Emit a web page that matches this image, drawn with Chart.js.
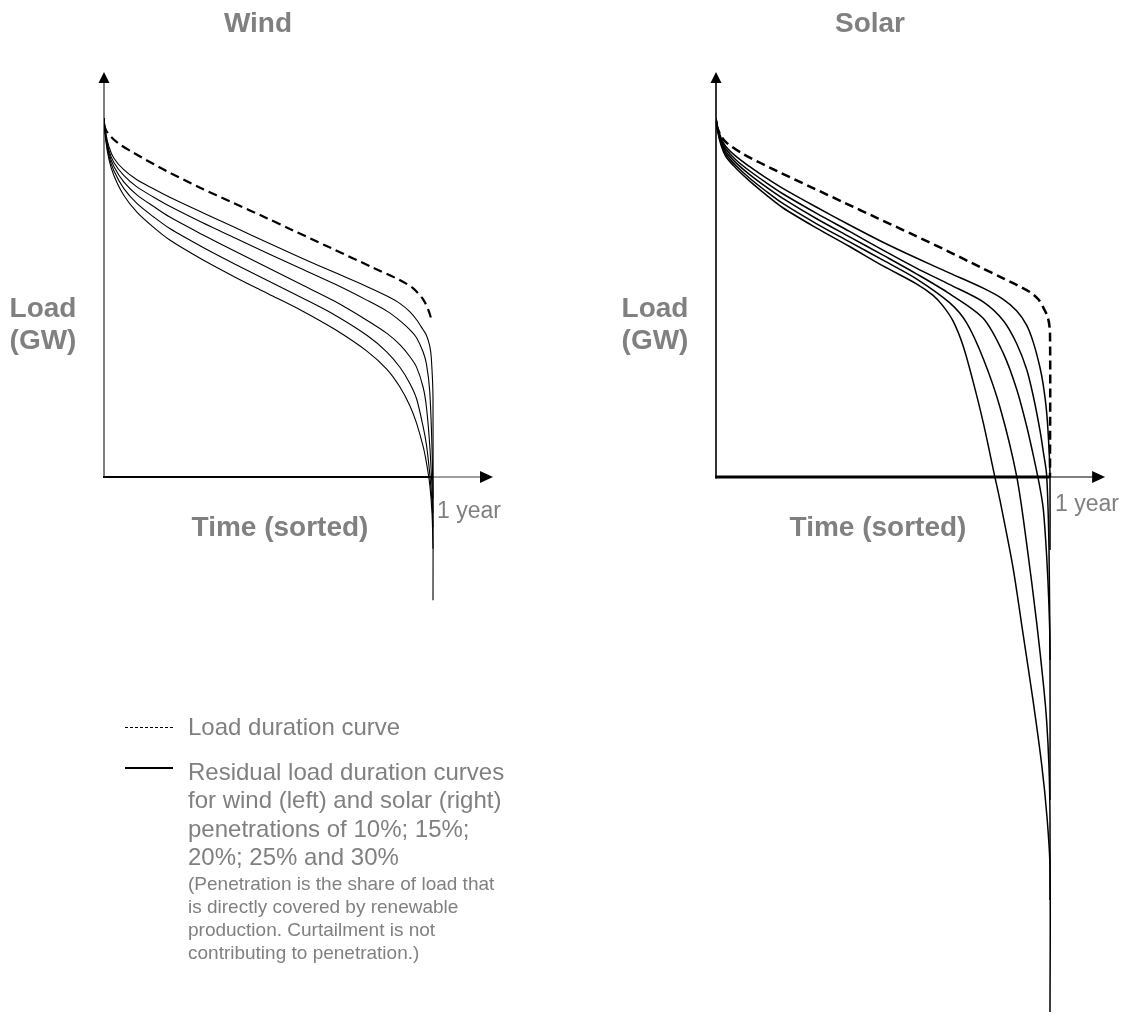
<!DOCTYPE html>
<html>
<head>
<meta charset="utf-8">
<title>Load and residual load duration curves</title>
<script src="https://cdn.jsdelivr.net/npm/chart.js@4/dist/chart.umd.min.js"></script>
<style>
  html, body { margin: 0; padding: 0; background: #ffffff; }
  #page { position: relative; width: 1125px; height: 1022px; overflow: hidden;
          font-family: "Liberation Sans", Arial, Helvetica, sans-serif; color: #808080; }
  canvas { position: absolute; top: 0; }
  .t { position: absolute; white-space: nowrap; }
  .big { font-size: 28px; font-weight: bold; line-height: 28px; }
  .ylab { font-size: 28px; font-weight: bold; line-height: 32px; text-align: center; width: 120px; }
  .yr { font-size: 23px; line-height: 23px; }
  .leg { font-size: 24px; line-height: 28.4px; }
  .note { font-size: 19px; line-height: 23px; }
  .sw { position: absolute; width: 48px; }
</style>
</head>
<body>
<div id="page">
  <canvas id="windChart" width="560" height="1022" style="left:0px"></canvas>
  <canvas id="solarChart" width="565" height="1022" style="left:560px"></canvas>

  <div class="t big" style="left:158px;top:9px;width:200px;text-align:center">Wind</div>
  <div class="t big" style="left:770px;top:9px;width:200px;text-align:center">Solar</div>

  <div class="t ylab" style="left:-17px;top:292px">Load<br>(GW)</div>
  <div class="t ylab" style="left:595px;top:292px">Load<br>(GW)</div>

  <div class="t big" style="left:180px;top:513px;width:200px;text-align:center">Time (sorted)</div>
  <div class="t big" style="left:778px;top:513px;width:200px;text-align:center">Time (sorted)</div>

  <div class="t yr" style="left:437px;top:499px">1 year</div>
  <div class="t yr" style="left:1055px;top:492px">1 year</div>

  <div class="sw" style="left:125px;top:727px;border-top:1px dashed #000"></div>
  <div class="t leg" style="left:188px;top:713px">Load duration curve</div>

  <div class="sw" style="left:125px;top:767px;height:2px;background:#000"></div>
  <div class="t leg" style="left:188px;top:758px">Residual load duration curves<br>for wind (left) and solar (right)<br>penetrations of 10%; 15%;<br>20%; 25% and 30%</div>
  <div class="t note" style="left:188px;top:872px">(Penetration is the share of load that<br>is directly covered by renewable<br>production. Curtailment is not<br>contributing to penetration.)</div>
</div>

<script>
// x: share of the year (hours sorted by load), y: load in % of peak load

// ---- Wind ----
const windLoadDuration = [[0,98],[0.009,96.1],[0.04,93.2],[0.088,90.4],[0.191,85.2],[0.292,80.6],[0.392,76.4],[0.495,72.1],[0.565,69.1],[0.687,63.9],[0.818,58.3],[0.900,54.8],[0.939,52.6],[0.970,49.5],[0.988,46.0],[0.997,43.2]];
const windResidual10 = [[0,100],[0.005,96],[0.015,92],[0.03,88.8],[0.06,85.6],[0.10,82.8],[0.15,80.3],[0.20,77.9],[0.30,73.6],[0.40,69.4],[0.50,65.2],[0.60,61.0],[0.70,57.0],[0.80,53.0],[0.86,50.4],[0.90,48.3],[0.93,46.0],[0.95,43.8],[0.97,41.0],[0.98,39.5],[0.99,36.5],[0.995,33],[1.0,22],[1.0,-34.3]];
const windResidual15 = [[0,100],[0.005,95.5],[0.015,91],[0.03,87.6],[0.06,84],[0.10,80.8],[0.15,78],[0.20,75.4],[0.30,70.8],[0.40,66.5],[0.50,62.2],[0.60,58],[0.70,53.8],[0.80,49.2],[0.86,46.2],[0.90,43.5],[0.93,41],[0.95,38.8],[0.97,34.8],[0.98,31.5],[0.99,24],[0.997,8],[1.0,-6]];
const windResidual20 = [[0,100],[0.005,95],[0.015,90.2],[0.03,86.5],[0.06,82.2],[0.10,78.6],[0.15,75.4],[0.20,72.4],[0.30,67.5],[0.40,62.8],[0.50,58.2],[0.60,53.6],[0.70,49],[0.80,43.6],[0.86,40],[0.90,36.8],[0.93,33.5],[0.95,30.6],[0.97,25],[0.98,19.5],[0.99,9],[0.997,-3],[1.0,-10]];
const windResidual25 = [[0,100],[0.005,94.5],[0.015,89.4],[0.03,85.3],[0.06,80.4],[0.10,76.2],[0.15,72.5],[0.20,69.2],[0.30,64],[0.40,59.2],[0.50,54.6],[0.60,50],[0.70,45.2],[0.80,39.4],[0.86,34.8],[0.90,30.5],[0.93,26],[0.95,21.8],[0.97,14],[0.98,9],[0.99,1],[0.997,-7],[1.0,-14]];
const windResidual30 = [[0,100],[0.005,94],[0.015,88.5],[0.03,84],[0.06,78.5],[0.10,73.8],[0.15,69.6],[0.20,66.0],[0.30,60.5],[0.40,55.6],[0.50,51.0],[0.60,46.4],[0.70,41.2],[0.80,35.0],[0.86,30.0],[0.90,25.0],[0.93,19.8],[0.95,15.0],[0.97,8.5],[0.98,4.0],[0.99,-2.0],[0.997,-10],[1.0,-20]];

// ---- Solar ----
const solarLoadDuration = [[0,98],[0.015,95],[0.033,93.0],[0.081,90.0],[0.183,85.2],[0.281,80.9],[0.380,76.6],[0.486,72.0],[0.59,67.5],[0.692,63.0],[0.79,58.5],[0.86,55.3],[0.90,53.5],[0.94,51.5],[0.965,49.5],[0.98,47.2],[0.994,44.3],[1.0,40],[1.0,0]];
const solarResidual10 = [[0,100],[0.005,97.5],[0.015,94.5],[0.03,92],[0.06,89.3],[0.10,86.5],[0.15,83.3],[0.20,80.4],[0.30,75.2],[0.40,70.2],[0.50,65.4],[0.60,61.0],[0.70,56.8],[0.80,52.6],[0.86,49.5],[0.90,46.3],[0.93,42.3],[0.95,37.5],[0.97,30.5],[0.98,25.5],[0.99,18],[0.997,8],[1.0,0],[1.0,-20.3]];
const solarResidual15 = [[0,100],[0.005,97.2],[0.015,94],[0.03,91.3],[0.06,88.3],[0.10,85.3],[0.15,82.0],[0.20,78.9],[0.30,73.5],[0.40,68.4],[0.50,63.2],[0.60,58.2],[0.70,53.6],[0.80,48.8],[0.86,43.6],[0.90,37.2],[0.93,30],[0.95,22.5],[0.97,13],[0.98,7],[0.99,0.5],[0.997,-20],[1.0,-51]];
const solarResidual20 = [[0,100],[0.005,96.9],[0.015,93.5],[0.03,90.6],[0.06,87.5],[0.10,84.3],[0.15,80.8],[0.20,77.6],[0.30,72.0],[0.40,66.9],[0.50,61.8],[0.60,56.6],[0.70,51.0],[0.80,44.2],[0.86,34.5],[0.90,24.5],[0.93,14.2],[0.95,6],[0.97,-3],[0.98,-9],[0.99,-22],[0.997,-36],[1.0,-48],[1.0,-90]];
const solarResidual25 = [[0,100],[0.005,96.6],[0.015,93],[0.03,89.9],[0.06,86.7],[0.10,83.3],[0.15,79.6],[0.20,76.2],[0.30,70.6],[0.40,65.5],[0.50,60.4],[0.60,55.2],[0.70,48.5],[0.75,43],[0.80,33],[0.85,19.5],[0.90,0.3],[0.93,-18.5],[0.96,-40.5],[0.98,-57.5],[0.99,-68],[0.997,-80.8],[1.0,-94.7],[1.0,-117.8]];
const solarResidual30 = [[0,100],[0.005,96.3],[0.015,92.5],[0.03,89.2],[0.06,86.0],[0.10,82.5],[0.15,78.6],[0.20,75.0],[0.30,69.4],[0.40,64.2],[0.50,58.8],[0.60,53.8],[0.65,50.6],[0.68,47.6],[0.71,43.4],[0.74,36.5],[0.77,26.5],[0.80,15.2],[0.835,0],[0.85,-6.4],[0.889,-25.1],[0.919,-43.5],[0.949,-62.1],[0.976,-80.8],[0.991,-94.7],[1.0,-108.6],[1.0,-149]];

const toPoints = arr => arr.map(([x, y]) => ({ x, y }));

// Draws the two arrowed axes through the origin of each panel
const axisArrows = {
  id: 'axisArrows',
  beforeDatasetsDraw(chart, args, o) {
    const { ctx, scales: { x, y } } = chart;
    const ox = x.getPixelForValue(0), oy = y.getPixelForValue(0);
    const x1 = x.getPixelForValue(1);
    const top = y.getPixelForValue(y.max), right = x.getPixelForValue(x.max);
    ctx.save();
    ctx.lineCap = 'butt';
    // vertical axis
    ctx.strokeStyle = o.yColor; ctx.lineWidth = o.yWidth;
    ctx.beginPath(); ctx.moveTo(ox, oy + o.xWidth / 2); ctx.lineTo(ox, top + o.yHead - 1); ctx.stroke();
    // horizontal axis up to one year
    ctx.strokeStyle = o.xColor; ctx.lineWidth = o.xWidth;
    ctx.beginPath(); ctx.moveTo(ox - o.yWidth / 2, oy); ctx.lineTo(x1, oy); ctx.stroke();
    // remaining stretch to the arrow
    ctx.strokeStyle = o.tailColor; ctx.lineWidth = o.tailWidth;
    ctx.beginPath(); ctx.moveTo(x1, oy); ctx.lineTo(right - o.xHead + 1, oy); ctx.stroke();
    // arrow heads
    ctx.fillStyle = '#000';
    ctx.beginPath();
    ctx.moveTo(ox, top); ctx.lineTo(ox - o.yHalf, top + o.yHead); ctx.lineTo(ox + o.yHalf, top + o.yHead);
    ctx.closePath(); ctx.fill();
    ctx.beginPath();
    ctx.moveTo(right, oy); ctx.lineTo(right - o.xHead, oy - o.xHalf); ctx.lineTo(right - o.xHead, oy + o.xHalf);
    ctx.closePath(); ctx.fill();
    ctx.restore();
  }
};

function makePanel(id, geo, ldc, residuals, style) {
  const canvas = document.getElementById(id);
  const W = canvas.width, H = canvas.height;
  const padding = {
    left: geo.originX - geo.canvasLeft,
    right: W - (geo.originX + geo.xMax * geo.pxX - geo.canvasLeft),
    top: geo.originY - geo.yMax * geo.pxY,
    bottom: H - (geo.originY - geo.yMin * geo.pxY)
  };
  const datasets = [{
    data: toPoints(ldc),
    borderColor: '#000',
    borderWidth: style.ldcWidth,
    borderDash: style.dash,
    tension: 0.3,
    pointRadius: 0,
    fill: false
  }].concat(residuals.map(r => ({
    data: toPoints(r),
    borderColor: '#000',
    borderWidth: style.resWidth,
    tension: 0.3,
    pointRadius: 0,
    fill: false
  })));
  return new Chart(canvas, {
    type: 'line',
    data: { datasets },
    options: {
      responsive: false,
      animation: false,
      devicePixelRatio: 1,
      layout: { padding },
      parsing: false,
      scales: {
        x: { type: 'linear', min: 0, max: geo.xMax, display: false },
        y: { type: 'linear', min: geo.yMin, max: geo.yMax, display: false }
      },
      plugins: {
        legend: { display: false },
        tooltip: { enabled: false },
        axisArrows: style.axes
      }
    },
    plugins: [axisArrows]
  });
}

makePanel('windChart',
  { canvasLeft: 0, originX: 104, originY: 477, pxX: 329, pxY: 3.59, xMax: 1.1824, yMax: 112.8, yMin: -34.8 },
  windLoadDuration,
  [windResidual10, windResidual15, windResidual20, windResidual25, windResidual30],
  { ldcWidth: 2.2, resWidth: 1.1, dash: [9, 5],
    axes: { yColor: '#7f7f7f', yWidth: 2, xColor: '#000', xWidth: 2, tailColor: '#7f7f7f', tailWidth: 1.5,
            yHead: 11, yHalf: 5.5, xHead: 13, xHalf: 6 } });

makePanel('solarChart',
  { canvasLeft: 560, originX: 716, originY: 477, pxX: 334, pxY: 3.59, xMax: 1.165, yMax: 112.8, yMin: -149.6 },
  solarLoadDuration,
  [solarResidual10, solarResidual15, solarResidual20, solarResidual25, solarResidual30],
  { ldcWidth: 2.5, resWidth: 1.5, dash: [9, 5],
    axes: { yColor: '#000', yWidth: 1.6, xColor: '#000', xWidth: 3, tailColor: '#000', tailWidth: 1,
            yHead: 11, yHalf: 5.5, xHead: 13, xHalf: 6 } });
</script>
</body>
</html>
